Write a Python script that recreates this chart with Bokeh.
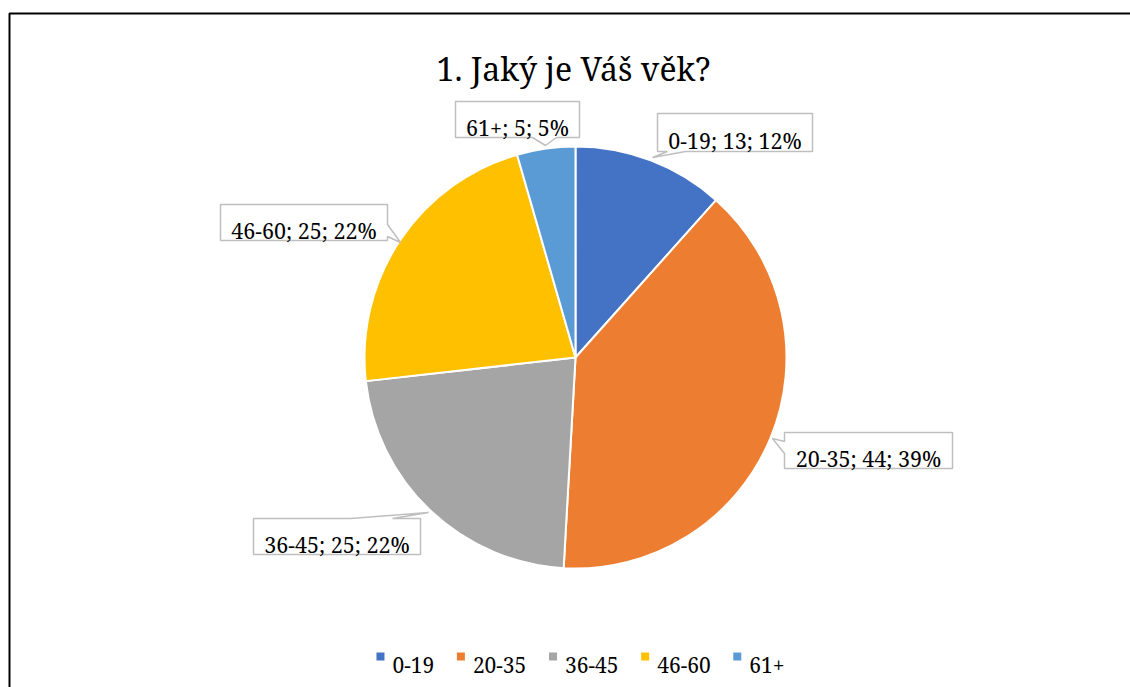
import math
from bokeh.plotting import figure
from bokeh.models import ColumnDataSource, Range1d
from bokeh.core.properties import value
from bokeh.embed import file_html
from bokeh.resources import INLINE

# ---- data ----
categories = ["0-19", "20-35", "36-45", "46-60", "61+"]
counts = [13, 44, 25, 25, 5]
percents = ["12%", "39%", "22%", "22%", "5%"]
colors = ["#4472C4", "#ED7D31", "#A5A5A5", "#FFC000", "#5B9BD5"]
title_text = "1. Jaký je Váš věk?"

# ---- layout ----
W, H = 1130, 687
FONT = "Noto Serif"
LEG_SIZE = 21

# approximate Noto Serif advance widths (em) for legend layout
ADV = {"-": 0.342, "+": 0.559}


def X(px):
    return px


def Y(py):
    return H - py


center_px = (575, 357)
radius = 211

callouts = {
    "0-19": ((657, 812, 113, 151), "bottom", (667, 685), (652, 157)),
    "20-35": ((784, 952, 432, 468), "left", (441, 453), (772, 438)),
    "36-45": ((253, 420, 518, 554), "top", (350, 392), (428, 512)),
    "46-60": ((220, 387, 204, 240), "right", (224, 236), (400, 242)),
    "61+": ((455, 579, 101, 137), "bottom", (532, 556), (545, 145)),
}
legend_center_x = 580
legend_y = 656

p = figure(width=W, height=H, output_backend="svg", toolbar_location=None,
           x_axis_location=None, y_axis_location=None,
           x_range=Range1d(0, W), y_range=Range1d(0, H),
           min_border=0, tools="")
p.grid.visible = False
p.outline_line_color = None
p.background_fill_color = "white"

p.line([X(9), X(9), X(1130)], [Y(687), Y(13), Y(13)], line_color="black", line_width=2)

total = float(sum(counts))
starts, ends = [], []
cum = 0.0
for c in counts:
    starts.append(math.pi / 2 - 2 * math.pi * cum / total)
    cum += c
    ends.append(math.pi / 2 - 2 * math.pi * cum / total)
src = ColumnDataSource(dict(start=starts, end=ends, color=colors, cat=categories))
p.wedge(x=X(center_px[0]), y=Y(center_px[1]), radius=radius, start_angle="start",
        end_angle="end", direction="clock", fill_color="color",
        line_color="white", line_width=2, source=src)

xs, ys = [], []
tx, ty, tt = [], [], []
for cat, cnt, pct in zip(categories, counts, percents):
    (l, r, t, b), side, (a1, a2), tip = callouts[cat]
    pts = [(l, t)]
    if side == "top":
        pts += [(a1, t), tip, (a2, t)]
    pts.append((r, t))
    if side == "right":
        pts += [(r, a1), tip, (r, a2)]
    pts.append((r, b))
    if side == "bottom":
        pts += [(a2, b), tip, (a1, b)]
    pts.append((l, b))
    if side == "left":
        pts += [(l, a2), tip, (l, a1)]
    xs.append([X(q[0]) for q in pts])
    ys.append([Y(q[1]) for q in pts])
    tx.append(X((l + r) / 2))
    ty.append(Y((t + b) / 2 + 7.5))
    tt.append(f"{cat}; {cnt}; {pct}")
p.patches(xs, ys, fill_color="white", line_color="#BFBFBF", line_width=1.5)
p.text(tx, ty, text=tt, text_align="center", text_baseline="alphabetic",
       text_font=value(FONT), text_font_size="21.5px", text_color="black")

p.text([X(573)], [Y(68)], text=[title_text], text_align="center",
       text_baseline="alphabetic", text_font=value(FONT), text_font_size="32px",
       text_color="black")

# legend layout
widths = [sum(ADV.get(ch, 0.559) for ch in c) * LEG_SIZE for c in categories]
item_w = [8 + 8 + w for w in widths]
total_w = sum(item_w) + 22 * (len(categories) - 1)
x0 = legend_center_x - total_w / 2
sq_x, tx_x = [], []
for w in item_w:
    sq_x.append(x0 + 4)
    tx_x.append(x0 + 16)
    x0 += w + 22
p.rect([X(v) for v in sq_x], [Y(legend_y)] * 5, width=8, height=8,
       fill_color=colors, line_color=None)
p.text([X(v) for v in tx_x], [Y(664)] * 5, text=categories,
       text_align="left", text_baseline="alphabetic", text_font=value(FONT),
       text_font_size=f"{LEG_SIZE}px", text_color="black")

open("out.html", "w").write(file_html(p, INLINE))
